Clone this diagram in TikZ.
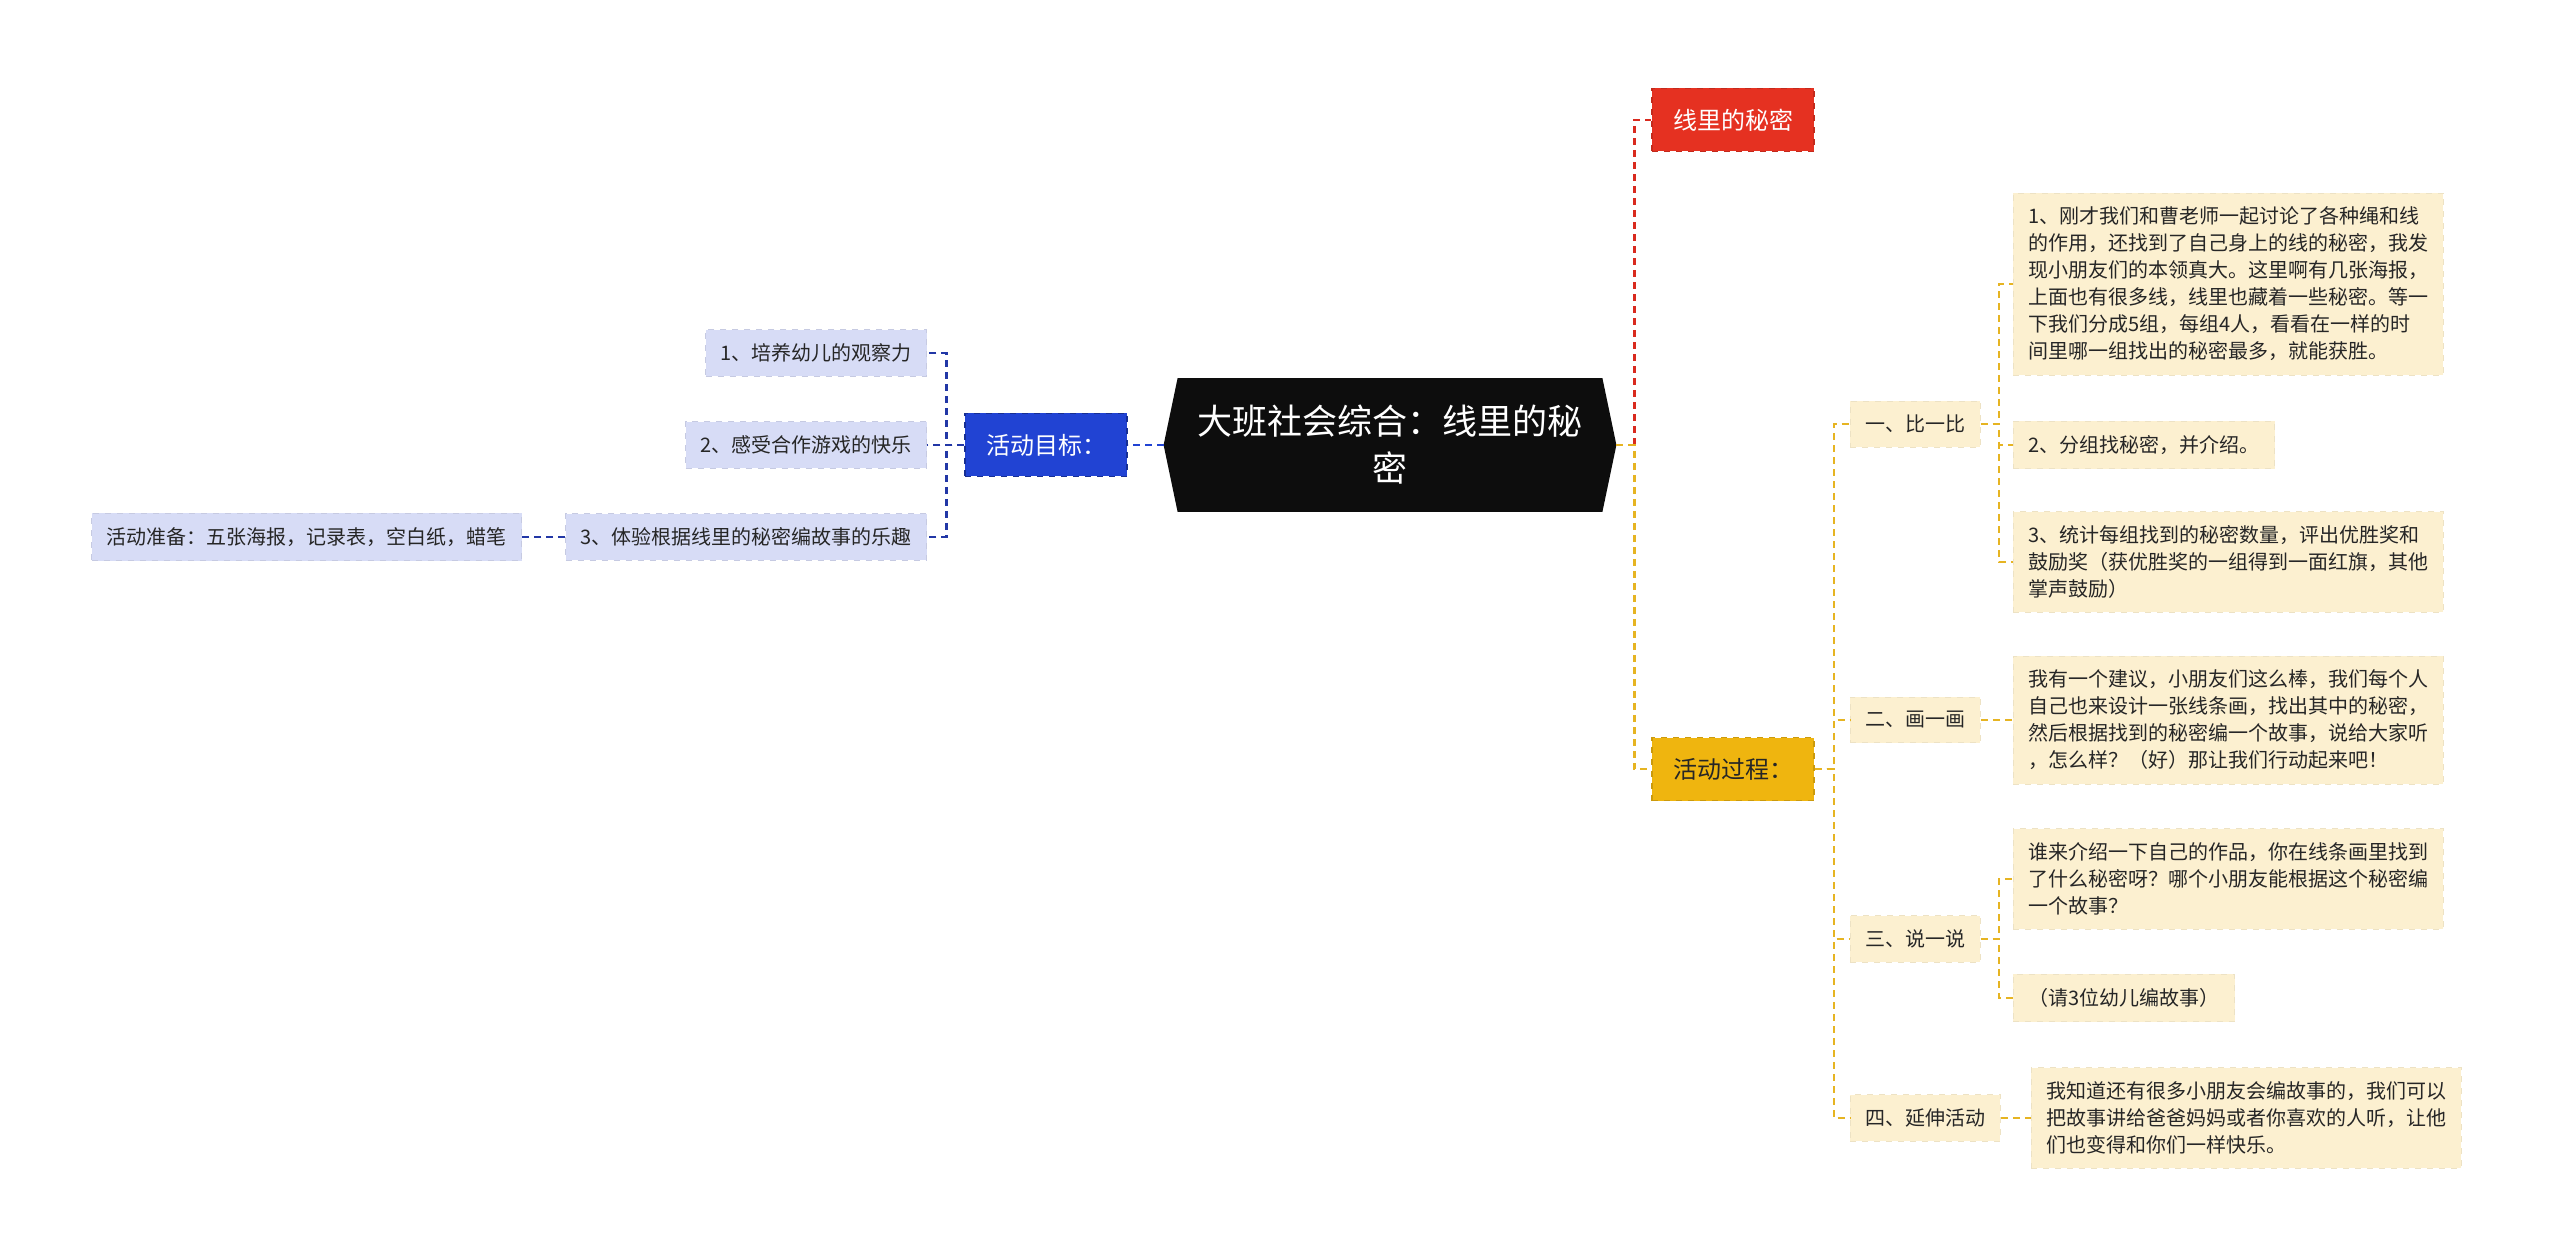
\documentclass[tikz,border=0pt]{standalone}
\usepackage{fontspec}
\newfontfamily\cjk{Noto Sans CJK SC}
\usepackage{tikz}
\usepackage{xcolor}
\usetikzlibrary{backgrounds}
\definecolor{rootblack}{HTML}{0D0D0D}
\definecolor{secretred}{HTML}{E53121}
\definecolor{goalblue}{HTML}{2143D3}
\definecolor{procyellow}{HTML}{EFB50F}
\definecolor{lavender}{HTML}{D7DCF6}
\definecolor{cream}{HTML}{FCF0D0}
\definecolor{lnnavy}{HTML}{2237A6}
\definecolor{lnblue}{HTML}{2143D3}
\definecolor{lnred}{HTML}{D92A1E}
\definecolor{lngold}{HTML}{E6B422}
\tikzstyle{rootbox} = [rectangle, minimum width=226pt, minimum height=66.5pt,
inner sep=0pt, align=center, text=white,
font=\cjk\fontsize{17.5pt}{23.5pt}\selectfont]
\tikzstyle{topic} = [rectangle, minimum width=81pt, minimum height=31.5pt,
inner sep=0pt, dashed, line width=0.6pt,
font=\cjk\fontsize{12pt}{14pt}\selectfont]
\tikzstyle{goalitem} = [rectangle, fill=lavender, draw=lavender!92!black, dashed,
inner xsep=7.5pt, inner ysep=7pt, text=black!85,
font=\cjk\fontsize{10pt}{13.5pt}\selectfont]
\tikzstyle{stepitem} = [rectangle, fill=cream, draw=cream!94!black, dashed,
inner xsep=7.5pt, inner ysep=7pt, text=black!85,
font=\cjk\fontsize{10pt}{13.5pt}\selectfont]
\tikzstyle{leaf} = [stepitem, align=left]
\tikzstyle{link} = [line width=1.1pt, dash pattern=on 3.5pt off 2.5pt]

\begin{document}
\begin{tikzpicture}[x=0.5pt, y=-0.5pt]
        \useasboundingbox (0,0) rectangle (2560,1256);

        % Tema central
        \node (root) [rootbox] at (1390,445) {大班社会综合：线里的秘\\密};
        \begin{scope}[on background layer]
        \fill[rootblack] ([xshift=7pt]root.north west) -- ([xshift=-7pt]root.north east)
            -- (root.east) -- ([xshift=-7pt]root.south east)
            -- ([xshift=7pt]root.south west) -- (root.west) -- cycle;
        \end{scope}

        % Ramas principales
        \node (secret) [topic, fill=secretred, draw=secretred!85!black, text=white] at (1733,120) {线里的秘密};
        \node (process) [topic, fill=procyellow, draw=procyellow!85!black, text=black!85] at (1733,769) {活动过程：};
        \node (goal) [topic, fill=goalblue, draw=goalblue!70!black, text=white] at (1046,445) {活动目标：};

        % Objetivos
        \node (g1) [goalitem, anchor=east] at (927,353) {1、培养幼儿的观察力};
        \node (g2) [goalitem, anchor=east] at (927,445) {2、感受合作游戏的快乐};
        \node (g3) [goalitem, anchor=east] at (927,537) {3、体验根据线里的秘密编故事的乐趣};
        \node (prep) [goalitem, anchor=east] at (522,537) {活动准备：五张海报，记录表，空白纸，蜡笔};

        % Proceso
        \node (s1) [stepitem, anchor=west] at (1850,424) {一、比一比};
        \node (s2) [stepitem, anchor=west] at (1850,720) {二、画一画};
        \node (s3) [stepitem, anchor=west] at (1850,939) {三、说一说};
        \node (s4) [stepitem, anchor=west] at (1850,1118) {四、延伸活动};

        \node (s1a) [leaf, anchor=west] at (2013,284) {1、刚才我们和曹老师一起讨论了各种绳和线\\的作用，还找到了自己身上的线的秘密，我发\\现小朋友们的本领真大。这里啊有几张海报，\\上面也有很多线，线里也藏着一些秘密。等一\\下我们分成5组，每组4人，看看在一样的时\\间里哪一组找出的秘密最多，就能获胜。};
        \node (s1b) [leaf, anchor=west] at (2013,445) {2、分组找秘密，并介绍。};
        \node (s1c) [leaf, anchor=west] at (2013,562) {3、统计每组找到的秘密数量，评出优胜奖和\\鼓励奖（获优胜奖的一组得到一面红旗，其他\\掌声鼓励）};
        \node (s2a) [leaf, anchor=west] at (2013,720) {我有一个建议，小朋友们这么棒，我们每个人\\自己也来设计一张线条画，找出其中的秘密，\\然后根据找到的秘密编一个故事，说给大家听\\，怎么样？（好）那让我们行动起来吧！};
        \node (s3a) [leaf, anchor=west] at (2013,879) {谁来介绍一下自己的作品，你在线条画里找到\\了什么秘密呀？哪个小朋友能根据这个秘密编\\一个故事？};
        \node (s3b) [leaf, anchor=west] at (2013,998) {（请3位幼儿编故事）};
        \node (s4a) [leaf, anchor=west] at (2031,1118) {我知道还有很多小朋友会编故事的，我们可以\\把故事讲给爸爸妈妈或者你喜欢的人听，让他\\们也变得和你们一样快乐。};

        % Conexiones izquierda
        \draw[link, lnblue] (root.west) -- (goal.east);
        \draw[link, lnnavy] (goal.west) -- ++(-18,0) |- (g1.east);
        \draw[link, lnnavy] (goal.west) -- (g2.east);
        \draw[link, lnnavy] (goal.west) -- ++(-18,0) |- (g3.east);
        \draw[link, lnnavy] (g3.west) -- (prep.east);

        % Conexiones derecha
        \draw[link, lnred] ([xshift=9pt]root.east) |- (secret.west);
        \draw[link, lngold] (root.east) -- ++(18,0) |- (process.west);
        \foreach \s in {s1,s2,s3,s4}
            \draw[link, lngold] (process.east) -- ++(19,0) |- (\s.west);
        \foreach \t in {s1a,s1b,s1c}
            \draw[link, lngold] (s1.east) -- ++(18,0) |- (\t.west);
        \draw[link, lngold] (s2.east) -- (s2a.west);
        \foreach \t in {s3a,s3b}
            \draw[link, lngold] (s3.east) -- ++(18,0) |- (\t.west);
        \draw[link, lngold] (s4.east) -- (s4a.west);

    \end{tikzpicture}
\end{document}
